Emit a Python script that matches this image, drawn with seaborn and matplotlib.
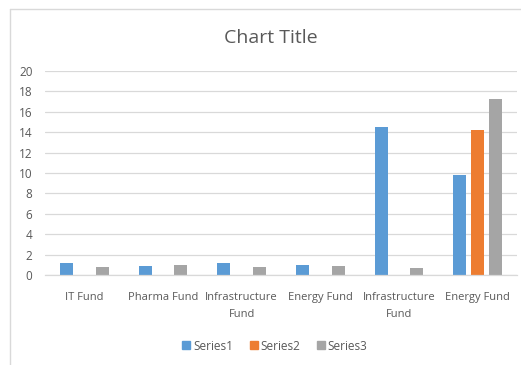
import matplotlib
matplotlib.use("Agg")
import matplotlib.pyplot as plt
import seaborn as sns
import pandas as pd
from matplotlib.lines import Line2D

# data
categories = ["IT Fund", "Pharma Fund", "Infrastructure\nFund", "Energy Fund",
              "Infrastructure\nFund", "Energy Fund"]
series1 = [1.2, 0.85, 1.2, 1.0, 14.5, 9.8]
series2 = [0, 0, 0, 0, 0, 14.2]
series3 = [0.8, 0.95, 0.8, 0.85, 0.7, 17.25]
series_names = ["Series1", "Series2", "Series3"]
colors = ["#5B9BD5", "#ED7D31", "#A5A5A5"]

rows = []
for i in range(len(categories)):
    for name, vals in zip(series_names, [series1, series2, series3]):
        rows.append({"slot": i, "series": name, "value": vals[i]})
df = pd.DataFrame(rows)

sns.set_style("white")
plt.rcParams["font.family"] = ["Open Sans", "DejaVu Sans"]
txt = "#595959"

fig = plt.figure(figsize=(5.21, 3.65), dpi=100)
ax = fig.add_axes([45 / 521, 90 / 365, 472 / 521, 204 / 365])

sns.barplot(data=df, x="slot", y="value", hue="series", palette=colors,
            hue_order=series_names, width=0.68, gap=0.26, ax=ax,
            saturation=1, legend=False, edgecolor="none", linewidth=0)

ax.set_ylim(0, 20)
ax.set_yticks(range(0, 21, 2))
ax.set_xlim(-0.5, len(categories) - 0.5)
ax.set_xticks(range(len(categories)))
ax.set_xticklabels(categories, fontsize=8, color=txt, linespacing=1.75)
ax.tick_params(axis="y", labelsize=8.5, labelcolor=txt, length=0, pad=9)
ax.tick_params(axis="x", length=0, pad=12)
ax.set_xlabel("")
ax.set_ylabel("")
ax.yaxis.grid(True, color="#D9D9D9", linewidth=0.9)
ax.set_axisbelow(True)
for s in ["top", "right", "left"]:
    ax.spines[s].set_visible(False)
ax.spines["bottom"].set_color("#D9D9D9")
ax.spines["bottom"].set_linewidth(0.9)

fig.text(271 / 521, 1 - 38 / 365, "Chart Title", ha="center", va="center",
         fontsize=14, color=txt)

handles = [Line2D([], [], marker="s", linestyle="none", markersize=6,
                  markerfacecolor=c, markeredgecolor=c) for c in colors]
fig.legend(handles, series_names, loc="center", ncol=3,
           bbox_to_anchor=(274 / 521, 1 - 346 / 365), frameon=False,
           fontsize=8.5, labelcolor=txt, handletextpad=0.1, columnspacing=1.2,
           handlelength=1.0)

# outer chart border (left and top only visible)
fig.add_artist(Line2D([10 / 521, 10 / 521], [0, 1 - 9 / 365], color="#D9D9D9",
                      linewidth=1, transform=fig.transFigure))
fig.add_artist(Line2D([10 / 521, 1], [1 - 9 / 365, 1 - 9 / 365], color="#D9D9D9",
                      linewidth=1, transform=fig.transFigure))

fig.savefig("out.png", dpi=100)
